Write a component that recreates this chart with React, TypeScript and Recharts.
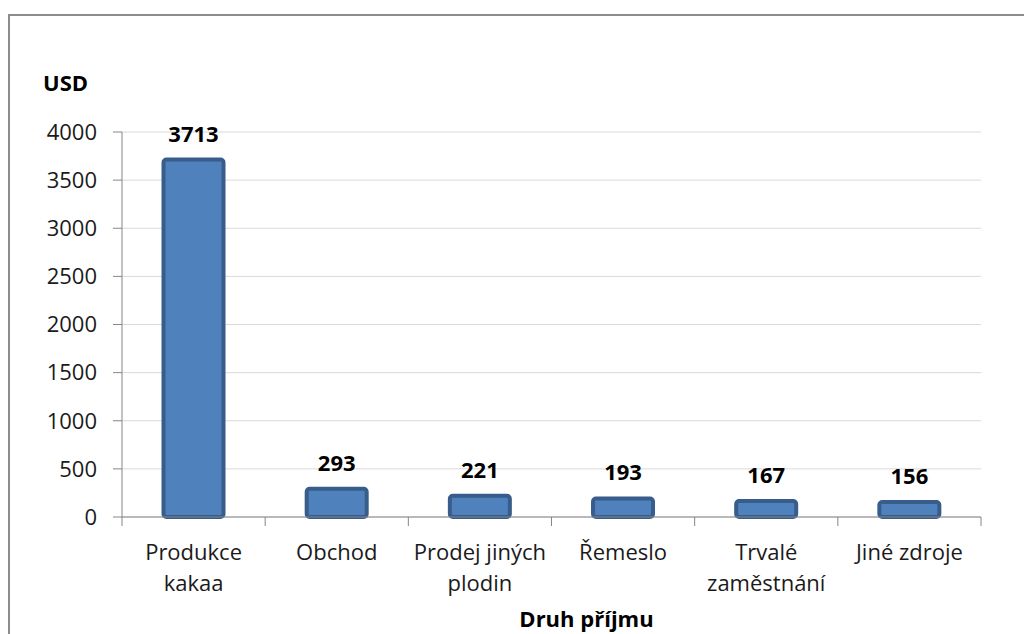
import { Bar, BarChart, CartesianGrid, LabelList, XAxis, YAxis } from "recharts";

const categories = [
  "Produkce\nkakaa",
  "Obchod",
  "Prodej jiných\nplodin",
  "Řemeslo",
  "Trvalé\nzaměstnání",
  "Jiné zdroje",
];
const incomes = [3713, 293, 221, 193, 167, 156];
const yTicks = [0, 500, 1000, 1500, 2000, 2500, 3000, 3500, 4000];

const data = categories.map((name, i) => ({ name, income: incomes[i] }));

const FONT = "'Open Sans', sans-serif";
const AXIS = "#868686";

// category label plus tick marks at the band edges (Excel style)
function CategoryTick({ x, y, payload, index, visibleTicksCount }: any) {
  const lines = String(payload.value).split("\n");
  const half = payload.offset ?? 0;
  const last = index === visibleTicksCount - 1;
  return (
    <g>
      <line x1={x - half} x2={x - half} y1={y} y2={y + 9} stroke={AXIS} />
      {last && (
        <line x1={x + half} x2={x + half} y1={y} y2={y + 9} stroke={AXIS} />
      )}
      <text
        x={x}
        y={y + 43}
        textAnchor="middle"
        fill="#1a1a1a"
        fontFamily={FONT}
        fontSize={22}
      >
        {lines.map((line, i) => (
          <tspan key={line} x={x} dy={i === 0 ? 0 : 31}>
            {line}
          </tspan>
        ))}
      </text>
    </g>
  );
}

export default function App() {
  return (
    <div
      style={{
        position: "fixed",
        left: 0,
        top: 0,
        width: 1024,
        height: 634,
        overflow: "hidden",
        background: "#fff",
      }}
    >
      <div
        style={{
          position: "absolute",
          left: 8,
          top: 14,
          width: 1200,
          height: 800,
          border: "2px solid #8c8c8c",
        }}
      />
      <div
        style={{
          position: "absolute",
          left: 43,
          top: 68,
          fontFamily: FONT,
          fontWeight: 700,
          fontSize: 22,
          color: "#000",
          lineHeight: "28px",
        }}
      >
        USD
      </div>
      <div style={{ position: "absolute", left: 0, top: 0 }}>
        <BarChart
          width={1024}
          height={634}
          data={data}
          margin={{ top: 132, right: 43, bottom: 0, left: 0 }}
          barCategoryGap="29%"
        >
          <CartesianGrid stroke="#d9d9d9" vertical={false} />
          <XAxis
            dataKey="name"
            interval={0}
            axisLine={{ stroke: AXIS }}
            tickLine={false}
            tickSize={0}
            tickMargin={0}
            tick={<CategoryTick />}
            height={117}
            label={{
              value: "Druh příjmu",
              position: "insideBottom",
              offset: 7,
              dx: 35,
              fill: "#000",
              fontFamily: FONT,
              fontWeight: 700,
              fontSize: 22,
            }}
          />
          <YAxis
            width={122}
            domain={[0, 4000]}
            ticks={yTicks}
            axisLine={{ stroke: AXIS }}
            tickLine={{ stroke: AXIS }}
            tickSize={9}
            tickMargin={16}
            tick={{ fill: "#1a1a1a", fontFamily: FONT, fontSize: 22 }}
          />
          <Bar
            dataKey="income"
            fill="#4f81bd"
            stroke="#385d8a"
            strokeWidth={4}
            radius={3}
            isAnimationActive={false}
          >
            <LabelList
              dataKey="income"
              position="top"
              offset={18}
              fill="#000"
              fontFamily={FONT}
              fontWeight={700}
              fontSize={22}
            />
          </Bar>
        </BarChart>
      </div>
    </div>
  );
}
